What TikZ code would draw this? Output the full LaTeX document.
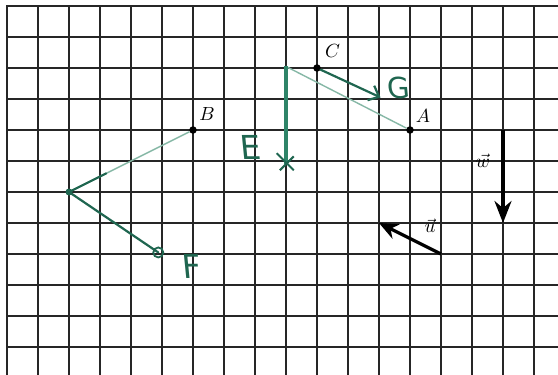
\documentclass[tikz,border=0pt]{standalone}
\usepackage{fontspec}
\newfontfamily\handfont{DejaVu Sans}
\usetikzlibrary{arrows.meta,calc}
\definecolor{gridc}{HTML}{262626}
\definecolor{dkgreen}{HTML}{1F6650}
\definecolor{mdgreen}{HTML}{2E8468}
\definecolor{ltgreen}{HTML}{86B8A6}
\newcommand{\biglbl}[1]{\scalebox{1.9}{$#1$}}
\tikzset{
  gridline/.style={gridc, line width=2pt},
  dot/.style={circle, fill=black, inner sep=0pt, minimum size=7.5pt},
  ptlabel/.style={inner sep=0pt},
  hand/.style={dkgreen, font=\handfont\fontsize{33}{33}\selectfont, inner sep=0pt, xslant=-0.1},
  thinline/.style={ltgreen, line width=1.4pt},
  penline/.style={dkgreen, line width=2.2pt, line cap=round},
  vecarrow/.style={black, line width=3.4pt, -{Stealth[length=22pt,width=17pt]}},
}
\begin{document}
\begin{tikzpicture}[x=31pt, y=-31pt]
  % bounding box matching the reference margins
  \path[use as bounding box] (-0.22581,-0.19355) rectangle (17.77419,11.90323);
  \fill[white] (-0.22581,-0.19355) rectangle (17.77419,11.90323);
  % grid
  \foreach \i in {0,...,17} \draw[gridline] (\i,-0.03) -- (\i,11.95);
  \foreach \j in {0,...,11} \draw[gridline] (-0.03,\j) -- (17.8,\j);

  % named points
  \node[dot] (A) at (13,4) {};
  \node[dot] (B) at (6,4) {};
  \node[dot] (C) at (10,2) {};
  \coordinate (P) at (2,6);
  \coordinate (Fp) at (4.88,7.95);
  \coordinate (Etop) at (9,1.95);
  \coordinate (Ebot) at (9,5.1);
  \coordinate (Gp) at (12.05,2.95);
  \coordinate (Wt) at (16,4);
  \coordinate (Wh) at (16,7);
  \coordinate (Ut) at (14,8);
  \coordinate (Uh) at (12,7);
  \coordinate (Pm) at ($(P)!0.3!(B)$);

  % point labels
  \node[ptlabel] (Al) at (13.42,3.55) {\biglbl{A}};
  \node[ptlabel] (Bl) at (6.45,3.5) {\biglbl{B}};
  \node[ptlabel] (Cl) at (10.5,1.45) {\biglbl{C}};

  % thin construction lines
  \draw[thinline] (B) -- (P);
  \draw[thinline] (Etop) -- (A);
  \draw[penline] (P) -- (Pm);

  % green vectors
  \draw[penline] (P) -- (Fp);
  \draw[dkgreen, line width=1.8pt] (Fp) circle (5pt);
  \fill[dkgreen] (P) circle (3.5pt);
  \draw[mdgreen, line width=4pt] (Etop) -- (Ebot);
  \draw[dkgreen, line width=2pt] (8.7,4.75) -- (9.25,5.3);
  \draw[dkgreen, line width=2pt] (8.8,5.3) -- (9.25,4.85);
  \draw[penline, -{Straight Barb[length=9pt,width=16pt]}] (C) -- (Gp);

  % handwritten labels
  \node[hand] (E) at (7.85,4.55) {E};
  \node[hand] (F) at (5.95,8.4) {F};
  \node[hand, font=\handfont\fontsize{29}{29}\selectfont] (G) at (12.65,2.65) {G};

  % black vectors
  \draw[vecarrow] (Wt) -- (Wh);
  \draw[vecarrow, line width=3.2pt, -{Stealth[length=19pt,width=16pt]}] (Ut) -- (Uh);
  \node[ptlabel] (wl) at (15.35,5.0) {\biglbl{\vec{w}}};
  \node[ptlabel] (ul) at (13.65,7.1) {\biglbl{\vec{u}}};
\end{tikzpicture}
\end{document}
